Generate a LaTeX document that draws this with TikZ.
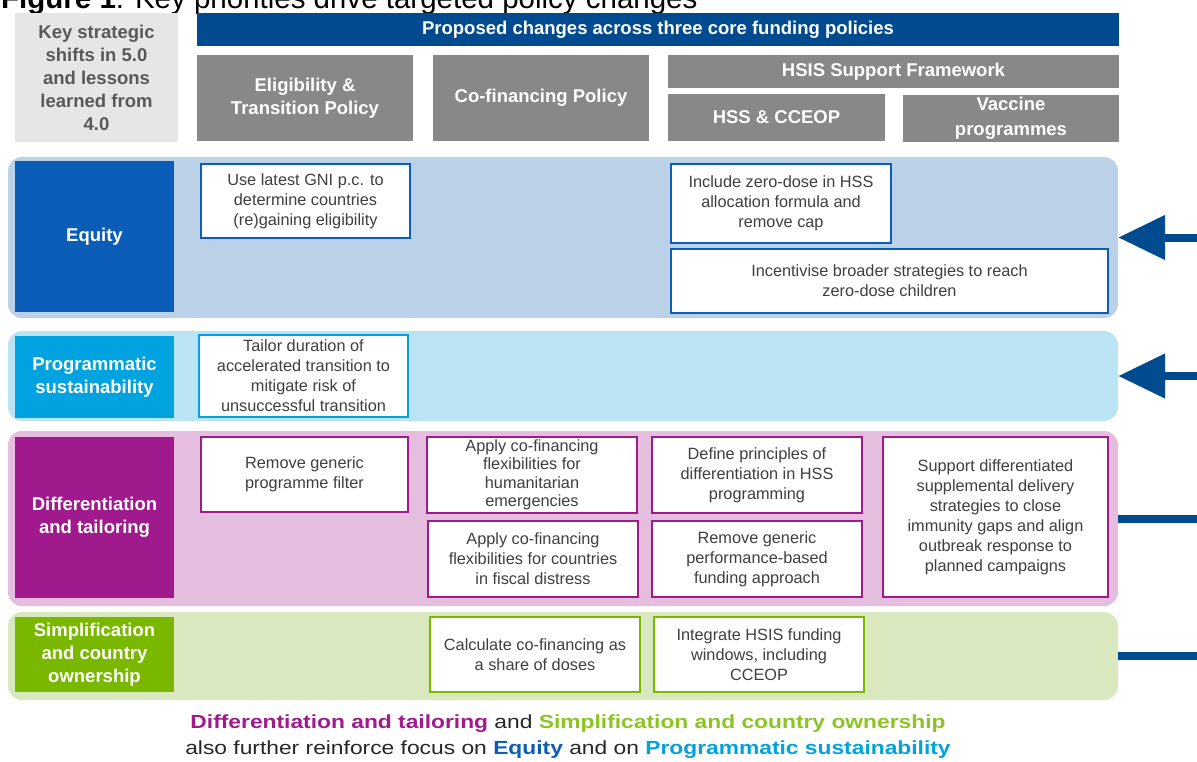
\documentclass[tikz,border=0pt]{standalone}
\usepackage{fontspec}
\setmainfont{Liberation Sans}
\newfontfamily\notefont[FakeStretch=1.2]{Liberation Sans}
\usepackage{xcolor}
\usepackage{tikz}
\usetikzlibrary{arrows.meta}
\definecolor{gavinavy}{HTML}{004A8F}
\definecolor{hdrgrey}{HTML}{888888}
\definecolor{keygrey}{HTML}{E6E6E6}
\definecolor{keytext}{HTML}{595959}
\definecolor{bodytext}{HTML}{3F3F3F}
\definecolor{eqdark}{HTML}{0B5DB8}
\definecolor{eqlight}{HTML}{BBD1E8}
\definecolor{psdark}{HTML}{00A2DF}
\definecolor{pslight}{HTML}{BAE3F3}
\definecolor{dtdark}{HTML}{A0198D}
\definecolor{dtlight}{HTML}{E5BDDF}
\definecolor{scdark}{HTML}{7AB800}
\definecolor{sclight}{HTML}{DAE8BF}
\definecolor{scnote}{HTML}{8CC425}

\begin{document}
\begin{tikzpicture}[x=1pt,y=-1pt,
  hdr/.style={fill=hdrgrey,text=white,font=\bfseries\fontsize{18.5}{23}\selectfont,align=center,inner sep=0pt},
  band/.style={rounded corners=14pt,inner sep=0pt,minimum width=1110pt},
  lbl/.style={text=white,font=\bfseries\fontsize{18.5}{23}\selectfont,align=center,inner sep=0pt,minimum width=159pt},
  act/.style={fill=white,line width=2pt,align=center,inner sep=0pt,text=bodytext,font=\fontsize{16.3}{20}\selectfont},
  push/.style={gavinavy,line width=8pt}]
\useasboundingbox (0,0) rectangle (1197,761);
\node[anchor=base west,inner sep=0pt,font=\fontsize{29.5}{34}\selectfont] (title) at (1,8) {\textbf{Figure 1}: Key priorities drive targeted policy changes};
% column headers
\node[fill=keygrey,text=keytext,font=\bfseries\fontsize{18.5}{23}\selectfont,align=center,inner sep=0pt,minimum width=163pt,minimum height=129pt] (keybox) at (96.5,77.5) {Key strategic\\shifts in 5.0\\and lessons\\learned from\\4.0};
\node[fill=gavinavy,text=white,font=\bfseries\fontsize{18.5}{23}\selectfont,inner sep=0pt,minimum width=922pt,minimum height=33pt] (hdrbar) at (658,29.5) {Proposed changes across three core funding policies};
\node[hdr,minimum width=216pt,minimum height=86pt] (elig) at (305,98) {Eligibility \&\\Transition Policy};
\node[hdr,minimum width=216pt,minimum height=86pt] (cofin) at (541,98) {Co-financing Policy};
\node[hdr,minimum width=451pt,minimum height=33pt] (hsisfw) at (893.5,71.5) {HSIS Support Framework};
\node[hdr,minimum width=217pt,minimum height=47pt] (hsscceop) at (776.5,117.5) {HSS \& CCEOP};
\node[hdr,minimum width=216pt,minimum height=47pt,font=\bfseries\fontsize{18.5}{25}\selectfont] (vaccine) at (1011,118.5) {Vaccine\\programmes};
% rows
\node[band,fill=eqlight,minimum height=161pt] (eqband) at (563,237.5) {};
\node[band,fill=pslight,minimum height=90pt] (psband) at (563,376) {};
\node[band,fill=dtlight,minimum height=175pt] (dtband) at (563,518.5) {};
\node[band,fill=sclight,minimum height=88pt] (scband) at (563,656) {};
\node[lbl,fill=eqdark,minimum height=151pt] (eqlbl) at (94.5,236.5) {Equity};
\node[lbl,fill=psdark,minimum height=82pt] (pslbl) at (94.5,377) {Programmatic\\sustainability};
\node[lbl,fill=dtdark,minimum height=161pt] (dtlbl) at (94.5,517.5) {Differentiation\\and tailoring};
\node[lbl,fill=scdark,minimum height=75pt] (sclbl) at (94.5,654.5) {Simplification\\and country\\ownership};
% equity
\node[act,draw=eqdark,minimum width=209pt,minimum height=74pt] (gni) at (305.5,201) {Use latest GNI p.c. to\\determine countries\\(re)gaining eligibility};
\node[act,draw=eqdark,minimum width=220pt,minimum height=79pt] (zerodose) at (781,203.5) {Include zero-dose in HSS\\allocation formula and\\remove cap};
\node[act,draw=eqdark,minimum width=437pt,minimum height=64pt] (incent) at (889.5,281) {Incentivise broader strategies to reach\\zero-dose children};
% programmatic sustainability
\node[act,draw=psdark,minimum width=209pt,minimum height=82pt] (tailor) at (303.5,376) {Tailor duration of\\accelerated transition to\\mitigate risk of\\unsuccessful transition};
% differentiation
\node[act,draw=dtdark,minimum width=207pt,minimum height=75pt] (filter) at (304.5,474.5) {Remove generic\\programme filter};
\node[act,draw=dtdark,minimum width=210pt,minimum height=76pt,font=\fontsize{16.3}{18.5}\selectfont] (humanit) at (532,475) {Apply co-financing\\flexibilities for\\humanitarian\\emergencies};
\node[act,draw=dtdark,minimum width=210pt,minimum height=76pt] (principles) at (757,475) {Define principles of\\differentiation in HSS\\programming};
\node[act,draw=dtdark,minimum width=210pt,minimum height=76pt] (fiscal) at (533,559) {Apply co-financing\\flexibilities for countries\\in fiscal distress};
\node[act,draw=dtdark,minimum width=210pt,minimum height=76pt] (pbf) at (757,559) {Remove generic\\performance-based\\funding approach};
\node[act,draw=dtdark,minimum width=225pt,minimum height=160pt] (supplem) at (995.5,517) {Support differentiated\\supplemental delivery\\strategies to close\\immunity gaps and align\\outbreak response to\\planned campaigns};
% simplification
\node[act,draw=scdark,minimum width=210pt,minimum height=75pt] (doses) at (535,654.5) {Calculate co-financing as\\a share of doses};
\node[act,draw=scdark,minimum width=210pt,minimum height=75pt] (windows) at (759,654.5) {Integrate HSIS funding\\windows, including\\CCEOP};
% links on the right
\coordinate (eqin) at (1197,237.5);
\coordinate (psin) at (1197,376);
\coordinate (dtin) at (1197,518.5);
\coordinate (scin) at (1197,656);
\draw[push,-{Triangle[length=47pt,width=43pt]}] (eqin) -- (eqband.east);
\draw[push,-{Triangle[length=47pt,width=43pt]}] (psin) -- (psband.east);
\draw[push] (dtin) -- (dtband.east);
\draw[push] (scin) -- (scband.east);
\node[align=center,inner sep=0pt,text=black!85,font=\notefont\fontsize{19}{26}\selectfont] (note) at (568,737) {\textcolor{dtdark}{\textbf{Differentiation and tailoring}} and \textcolor{scnote}{\textbf{Simplification and country ownership}}\\also further reinforce focus on \textcolor{eqdark}{\textbf{Equity}} and on \textcolor{psdark}{\textbf{Programmatic sustainability}}};
\end{tikzpicture}
\end{document}
